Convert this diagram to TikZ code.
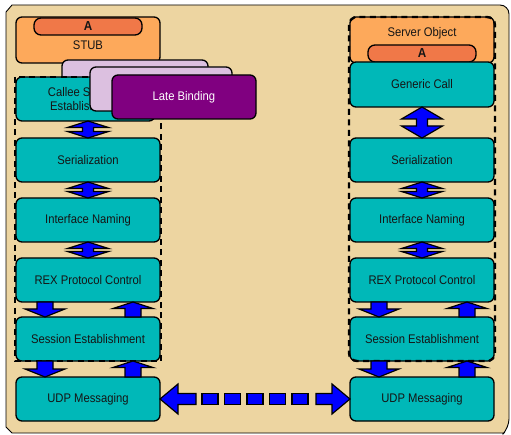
\documentclass[tikz,border=0pt]{standalone}
\usepackage{fontspec}
\setmainfont{Liberation Sans}[FakeStretch=0.9]
\usetikzlibrary{calc}

\definecolor{frameback}{HTML}{EDD5A1}
\definecolor{layerteal}{HTML}{00B8B8}
\definecolor{stuborange}{HTML}{FDA95B}
\definecolor{tagorange}{HTML}{F07848}
\definecolor{lavender}{HTML}{DCC0E0}
\definecolor{bindpurple}{HTML}{800080}
\definecolor{arrowblue}{HTML}{0000FF}
\definecolor{textdark}{HTML}{151515}

\tikzset{
  layerfont/.style={font=\fontsize{12.5}{14.5}\selectfont},
  layer/.style={draw=black, line width=1.3pt, rounded corners=6pt,
    minimum width=144pt, minimum height=44pt, inner sep=0pt, outer sep=0pt,
    fill=layerteal, text=textdark, align=center, layerfont},
  objbox/.style={layer, fill=stuborange, minimum height=46pt},
  tagbox/.style={draw=black, line width=1.3pt, rounded corners=7pt,
    minimum width=108pt, minimum height=17pt, inner sep=0pt, outer sep=0pt,
    fill=tagorange, text=textdark, font=\fontsize{13}{13}\selectfont\bfseries},
  lavbox/.style={layer, fill=lavender},
  bindbox/.style={layer, fill=bindpurple, text=white},
  groupframe/.style={draw=black, line width=2.4pt, dash pattern=on 6pt off 4.5pt},
  blockarrow/.style={draw=black, line width=1.2pt, fill=arrowblue, line join=miter},
  framebg/.style={draw=black, line width=0.9pt, fill=frameback},
}

% two-headed block arrow between two stacked layers
\newcommand\dblblock[3]{%
  \path[blockarrow] let \p1=(#1.south), \p2=(#2.north) in
    (\x2,\y1) -- (\x2+20.5pt,\y1-#3) -- (\x2+5.5pt,\y1-#3)
    -- (\x2+5.5pt,\y2+#3) -- (\x2+20.5pt,\y2+#3) -- (\x2,\y2)
    -- (\x2-20.5pt,\y2+#3) -- (\x2-5.5pt,\y2+#3)
    -- (\x2-5.5pt,\y1-#3) -- (\x2-20.5pt,\y1-#3) -- cycle;}

% single block arrow pointing down, shifted sideways by #3
\newcommand\downblock[3]{%
  \path[blockarrow] let \p1=(#1.south), \p2=(#2.north) in
    (\x2+#3-8pt,\y1) -- (\x2+#3+8pt,\y1) -- (\x2+#3+8pt,\y2+8pt)
    -- (\x2+#3+20pt,\y2+8pt) -- (\x2+#3,\y2) -- (\x2+#3-20pt,\y2+8pt)
    -- (\x2+#3-8pt,\y2+8pt) -- cycle;}

% single block arrow pointing up, shifted sideways by #3
\newcommand\upblock[3]{%
  \path[blockarrow] let \p1=(#1.south), \p2=(#2.north) in
    (\x2+#3,\y1) -- (\x2+#3+20pt,\y1-6.5pt) -- (\x2+#3+8pt,\y1-6.5pt)
    -- (\x2+#3+8pt,\y2) -- (\x2+#3-8pt,\y2) -- (\x2+#3-8pt,\y1-6.5pt)
    -- (\x2+#3-20pt,\y1-6.5pt) -- cycle;}

\begin{document}
\begin{tikzpicture}[x=1pt,y=-1pt]
\useasboundingbox (0,0) rectangle (511,435);

% outer panel
\path[framebg] (6,12) -- (12,5) {[rounded corners=9pt] -- (509,5) -- (509,428)}
  -- (504,433) -- (12,433) -- (6,427) -- cycle;

% ---- client side ----
\node[objbox] (stub) at (88,40) {};
\node[tagbox] (stubtag) at (88,26.5) {A};
\node[layerfont, text=textdark] (stubtxt) at (88,45) {STUB};
\node[lavbox, minimum width=146pt] (lavA) at (135,82) {};
\node[layer, minimum width=139pt] (callee) at (85.5,99) {Callee Session\\Establishment};
\node[layer] (serL) at (88,160) {Serialization};
\node[layer] (namL) at (88,220) {Interface Naming};
\node[layer] (rexL) at (88,280) {REX Protocol Control};
\node[layer] (sesL) at (88,339) {Session Establishment};
\node[layer] (udpL) at (88,399) {UDP Messaging};
\draw[groupframe] (15,77) rectangle (161,361);
\node[lavbox, minimum width=142pt] (lavB) at (161,89) {};
\node[bindbox] (late) at (184,97) {Late Binding};

% ---- server side ----
\node[objbox] (srv) at (422,40) {};
\node[layerfont, text=textdark] (srvtxt) at (422,33) {Server Object};
\node[tagbox] (srvtag) at (422,53.5) {A};
\node[layer, minimum height=45pt] (gen) at (422,84.5) {Generic Call};
\node[layer] (serR) at (422,160) {Serialization};
\node[layer] (namR) at (422,220) {Interface Naming};
\node[layer] (rexR) at (422,280) {REX Protocol Control};
\node[layer] (sesR) at (422,339) {Session Establishment};
\node[layer] (udpR) at (422,399) {UDP Messaging};
\draw[groupframe, rounded corners=8pt] (349,17) rectangle (495,361);

% ---- arrows between layers ----
\dblblock{callee}{serL}{6.5pt}
\dblblock{serL}{namL}{6.5pt}
\dblblock{namL}{rexL}{6.5pt}
\downblock{rexL}{sesL}{-43pt}
\upblock{rexL}{sesL}{45pt}
\downblock{sesL}{udpL}{-43pt}
\upblock{sesL}{udpL}{45pt}

\dblblock{gen}{serR}{12pt}
\dblblock{serR}{namR}{6.5pt}
\dblblock{namR}{rexR}{6.5pt}
\downblock{rexR}{sesR}{-43pt}
\upblock{rexR}{sesR}{45pt}
\downblock{sesR}{udpR}{-43pt}
\upblock{sesR}{udpR}{45pt}

% ---- dashed link between the two messaging layers ----
\path[blockarrow] let \p1=(udpL.east) in
  (\x1,\y1) -- (\x1+18pt,\y1+15pt) -- (\x1+18pt,\y1+5.5pt) -- (\x1+36pt,\y1+5.5pt)
  -- (\x1+36pt,\y1-5.5pt) -- (\x1+18pt,\y1-5.5pt) -- (\x1+18pt,\y1-15pt) -- cycle;
\path[blockarrow] let \p2=(udpR.west) in
  (\x2,\y2) -- (\x2-18pt,\y2+15pt) -- (\x2-18pt,\y2+5.5pt) -- (\x2-34pt,\y2+5.5pt)
  -- (\x2-34pt,\y2-5.5pt) -- (\x2-18pt,\y2-5.5pt) -- (\x2-18pt,\y2-15pt) -- cycle;
\foreach \i in {0,...,4}
  \path[blockarrow] ($(udpL.east)+(42+22.5*\i,-5.5)$) rectangle ++(16,11);

\end{tikzpicture}
\end{document}
